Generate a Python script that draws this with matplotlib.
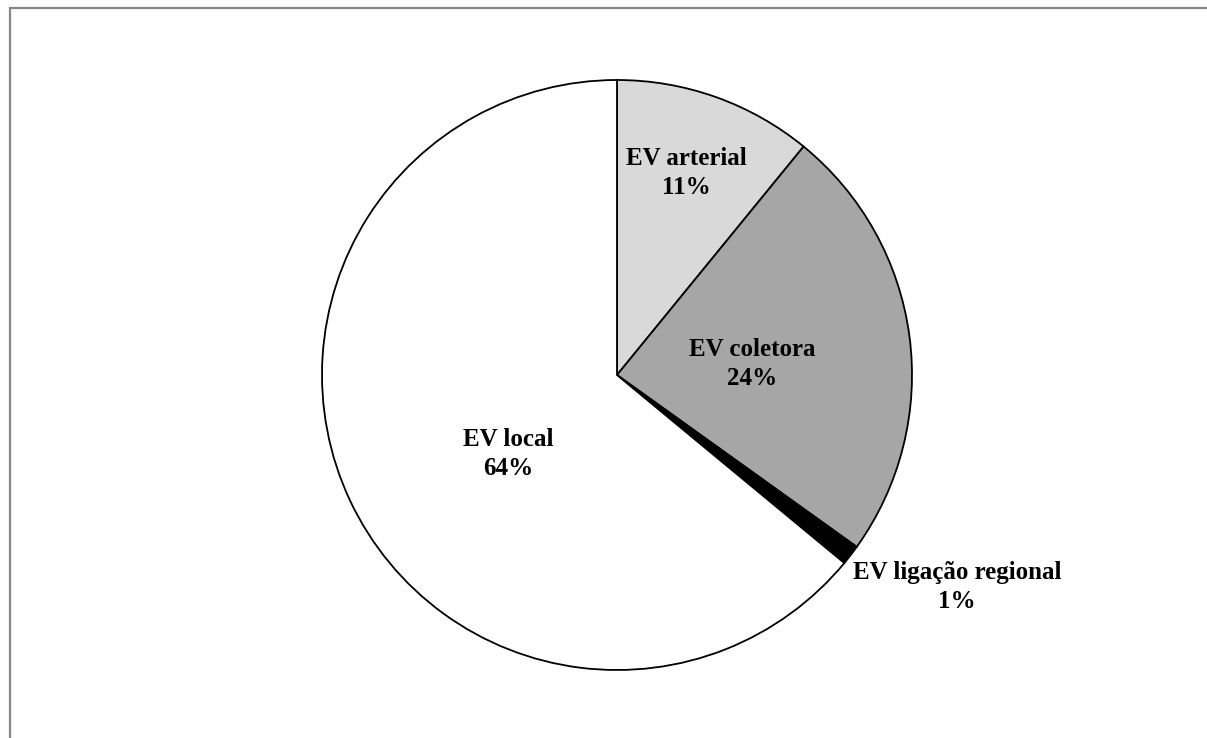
import matplotlib.pyplot as plt
from matplotlib.patches import Rectangle

categories = ['EV arterial', 'EV coletora', 'EV ligação regional', 'EV local']
values = [10.9, 24.0, 1.1, 64.0]
colors = ['#d9d9d9', '#a6a6a6', '#000000', '#ffffff']

W, H = 1207, 738
fig = plt.figure(figsize=(W / 100, H / 100), dpi=100)
ax = fig.add_axes([0, 0, 1, 1])

# outer chart frame, cut off at right and bottom like the source
fig.patches.append(Rectangle((9.5 / W, -0.1), 1.2, 1 - 7.5 / H + 0.1,
                             transform=fig.transFigure, fill=False,
                             edgecolor='#878787', linewidth=1.6))

ax.pie(values, colors=colors, startangle=90, counterclock=False,
       center=(617, H - 375), radius=295,
       wedgeprops=dict(edgecolor='black', linewidth=1.3))
ax.set_xlim(0, W)
ax.set_ylim(0, H)
ax.set_aspect('auto')
ax.set_axis_off()

# label positions in pixels (x, y from top)
label_pos = [(686, 173), (752, 364), (957, 587), (508, 454)]
for cat, val, (x, y) in zip(categories, values, label_pos):
    ax.text(x, H - y, '%s\n%.0f%%' % (cat, val), ha='center', va='center',
            family='Liberation Serif', fontweight='bold', fontsize=18,
            linespacing=1.3)

fig.savefig('out.png', dpi=100)
